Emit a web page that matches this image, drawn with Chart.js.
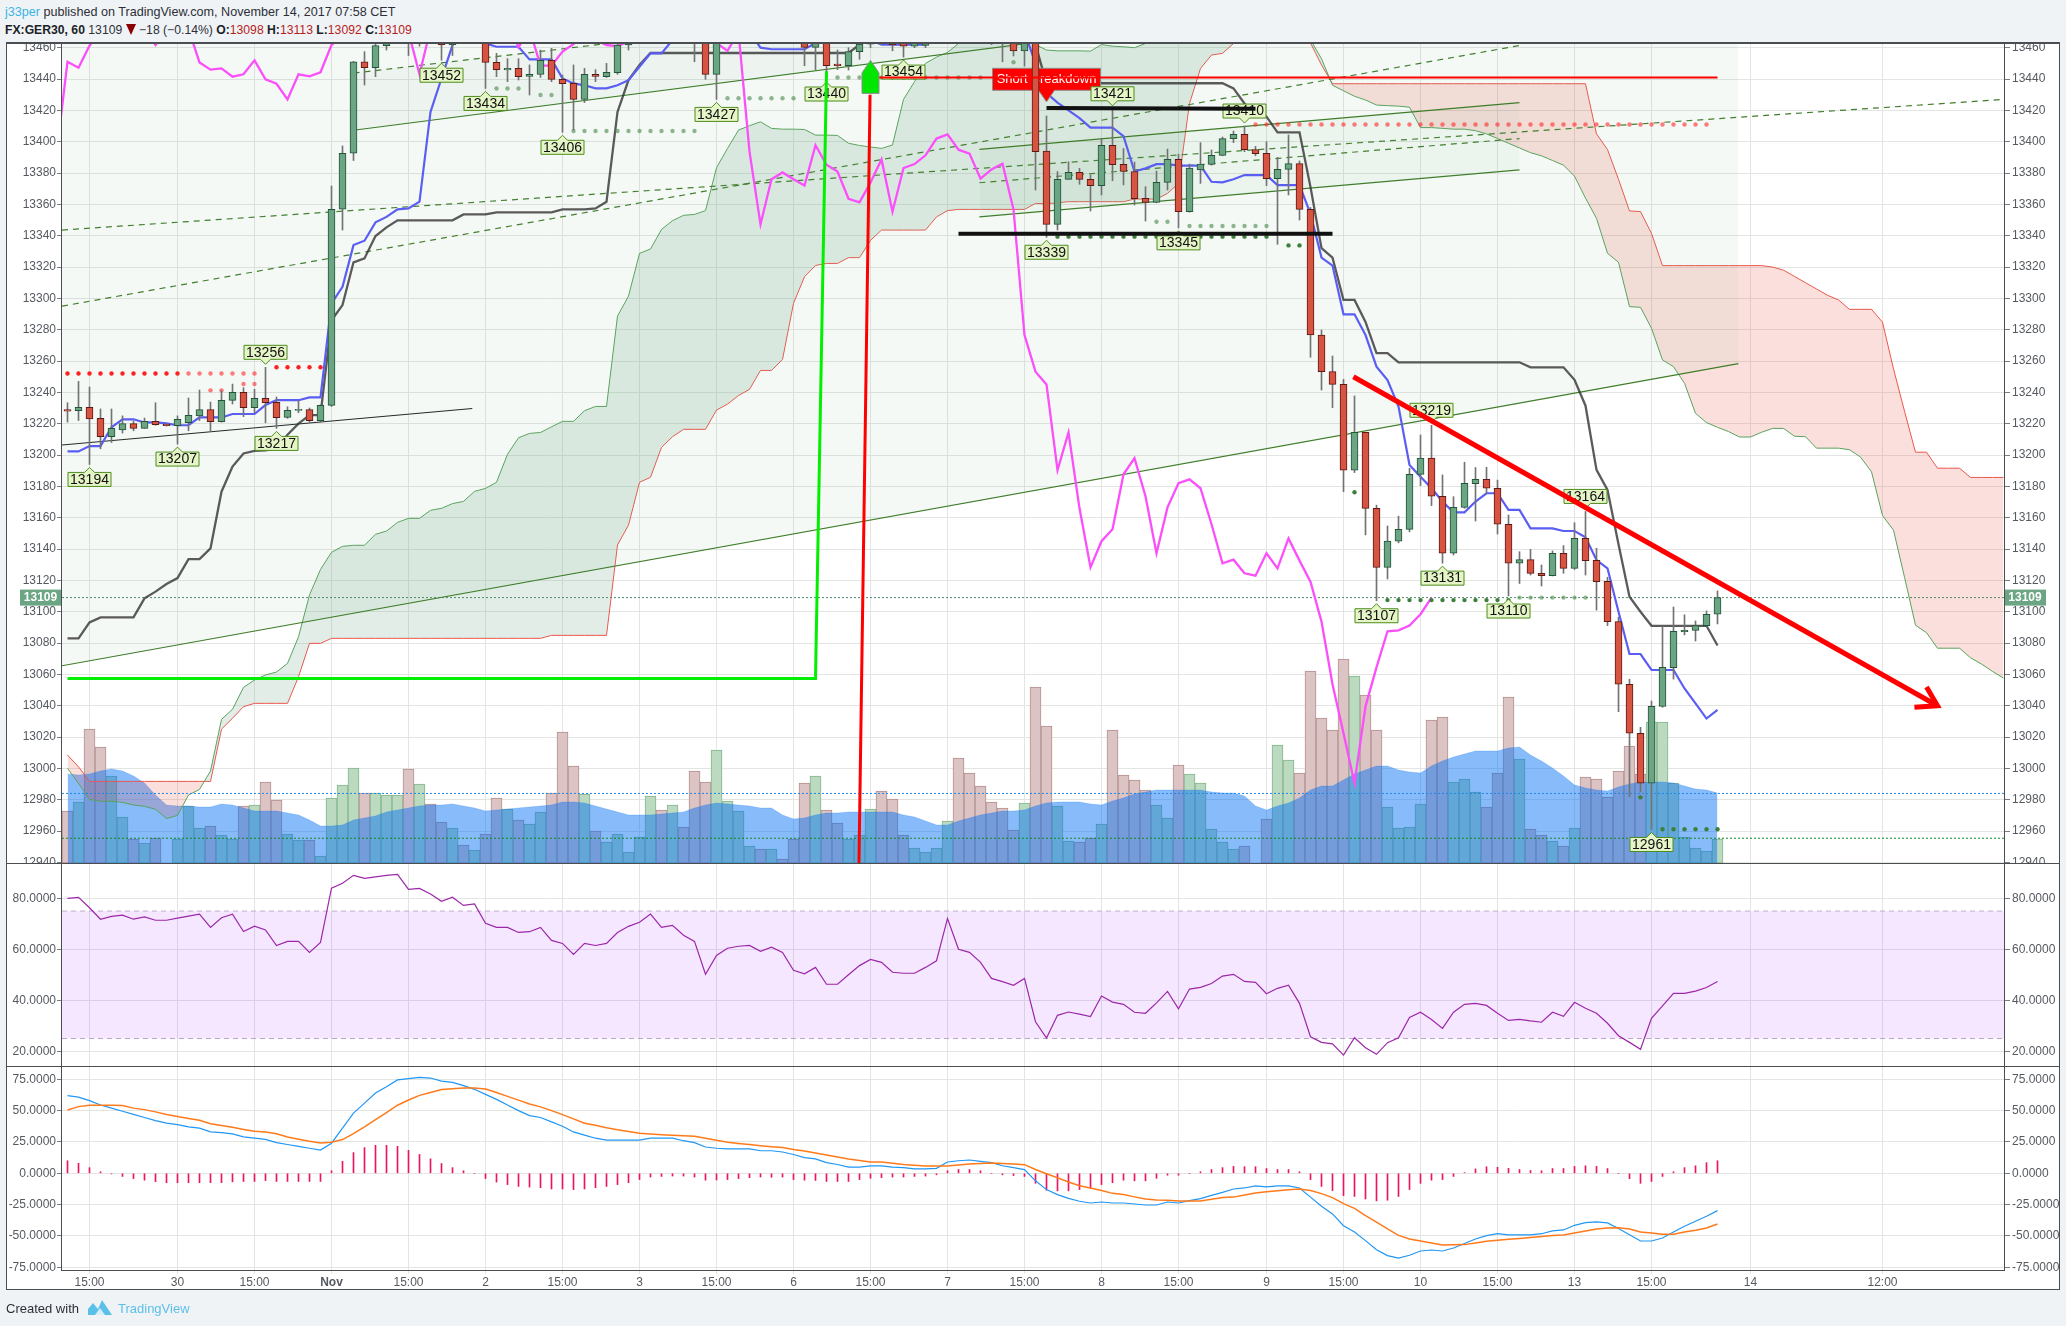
<!DOCTYPE html>
<html>
<head>
<meta charset="utf-8">
<title>FX:GER30, 60</title>
<script src="https://cdn.jsdelivr.net/npm/chart.js@4/dist/chart.umd.js"></script>
<style>
    html, body { margin: 0; padding: 0; background: #f0f3f6; }
    body { width: 2066px; height: 1326px; position: relative; overflow: hidden; font-family: "Liberation Sans", Arial, sans-serif; }
    .abs { position: absolute; }
    .pane { position: absolute; left: 7px; width: 2052px; background: #fff; }
    .rule { position: absolute; background: #4a4d52; }
    .head { position: absolute; left: 5px; white-space: nowrap; font-size: 12.6px; color: #2c2f36; }
    .head b { color: #1c1f26; }
    .red { color: #b71c1c; }
    .drop { display: inline-block; width: 0; height: 0; border-left: 5px solid transparent; border-right: 5px solid transparent; border-top: 11px solid #8b0000; vertical-align: -1px; }
</style>
</head>
<body>
<div class="head" style="top:5px"><span style="color:#3bb3e4">j33per</span> published on TradingView.com, November 14, 2017 07:58 CET</div>
<div class="head" style="top:23px;font-size:12.2px"><b>FX:GER30, 60</b> 13109 <span class="drop"></span> &minus;18 (&minus;0.14%) <b>O:</b><span class="red">13098</span> <b>H:</b><span class="red">13113</span> <b>L:</b><span class="red">13092</span> <b>C:</b><span class="red">13109</span></div>

<div class="pane" style="top:44px;height:819px"><canvas id="priceChart" width="2052" height="819"></canvas></div>
<div class="pane" style="top:864px;height:202px"><canvas id="rsiChart" width="2052" height="202"></canvas></div>
<div class="pane" style="top:1067px;height:222px"><canvas id="macdChart" width="2052" height="222"></canvas></div>

<div class="abs" style="left:7px;top:1271px;width:54px;height:18px;background:#fff"></div>
<div class="abs" style="left:2005px;top:1271px;width:54px;height:18px;background:#fff"></div>

<div class="rule" style="left:6px;top:42px;width:2054px;height:2px"></div>
<div class="rule" style="left:6px;top:863px;width:2054px;height:1px"></div>
<div class="rule" style="left:6px;top:1066px;width:2054px;height:1px"></div>
<div class="rule" style="left:61px;top:1270px;width:1944px;height:1px"></div>
<div class="rule" style="left:6px;top:1289px;width:2054px;height:1px"></div>
<div class="rule" style="left:6px;top:42px;width:1px;height:1248px"></div>
<div class="rule" style="left:2059px;top:42px;width:1px;height:1248px"></div>
<div class="rule" style="left:61px;top:44px;width:1px;height:1226px"></div>
<div class="rule" style="left:2004px;top:44px;width:1px;height:1226px"></div>

<div class="head" style="left:6px;top:1301px;font-size:13px">Created with</div>
<svg class="abs" style="left:88px;top:1300px" width="24" height="15" viewBox="0 0 24 15">
    <path d="M0 15 L0 9 L5 3 L10 9 L14 0 L24 15 Z" fill="#5bc0e8"/>
    <path d="M7 15 L12 8 L17 15 Z" fill="#d6eef8"/>
</svg>
<div class="head" style="left:118px;top:1301px;font-size:13px;color:#5bc0e8">TradingView</div>

<script>
// one entry per hourly bar, bar 0 is the first one on screen
const opens = [13229,13228.3,13230.4,13223.4,13211.7,13216,13220,13217,13221.5,13219.8,13218.7,13220.7,13225,13229,13221.3,13234.9,13240,13230.2,13236.2,13233.6,13224,13228.4,13229,13222,13231.7,13356.9,13392.6,13451,13447.2,13461.3,13470,13482,13468,13480,13472,13461.7,13470,13466,13472,13450.6,13445.8,13446.8,13441.7,13442.9,13451.9,13439.8,13437.2,13427,13443,13441.5,13444,13461.7,13468,13474,13485,13478,13486,13480,13470,13443,13472,13478,13482,13486,13483,13487,13484,13478,13460.2,13472,13449.5,13448.5,13457.5,13462.3,13468,13465,13464,13461,13461.5,13466,13470,13476,13470,13468,13466,13464,13464,13458,13470,13394,13347.2,13376,13380.4,13376,13372,13397.7,13385.5,13381,13363.8,13361.3,13374,13388.7,13355.3,13382,13385.5,13391.3,13402,13404.7,13395,13392.6,13376.4,13382.3,13386,13356.8,13276.6,13253.2,13245.1,13190.3,13214.5,13166,13128.3,13145,13152.6,13187.7,13198,13173.7,13137.3,13166.6,13181.7,13184.5,13178.8,13155.8,13130.9,13133.2,13124.5,13123,13137.3,13127.7,13146.8,13132.8,13119.4,13093.7,13053.7,13022.4,12990.5,13039.6,13064.3,13087.3,13088.1,13091.1,13098.4];
const highs = [13233.4,13247,13243.4,13229.4,13229.4,13225,13221.7,13223.6,13233.4,13220,13225,13236.4,13241.5,13233.8,13241,13245.3,13243,13242,13256,13237,13230.8,13234.7,13230,13232,13371.7,13397.3,13451.3,13457.5,13466,13478,13485,13490,13488,13484,13480,13476,13476,13478,13480,13456.4,13453,13453,13449,13458.5,13459.6,13442.5,13449,13446.8,13446,13450,13466,13474,13480,13490,13490,13490,13494,13490,13478,13480,13486,13490,13494,13492,13494,13494,13490,13486,13478,13478,13458.5,13460,13466,13472,13472,13470,13466,13468,13470,13474,13480,13482,13476,13474,13472,13470,13468,13474,13478,13416.4,13380.9,13387.2,13383,13378.7,13402,13421,13395.7,13387,13371.3,13381.3,13395.3,13392,13385.7,13399.4,13394.7,13403,13406.8,13410,13397,13400,13390,13404.3,13387.7,13358,13279.8,13263.2,13248.3,13237.7,13214.5,13168,13154.7,13161,13191.5,13212.8,13219,13187.3,13173.4,13195.4,13192,13192.2,13184,13161.7,13138.3,13139.8,13129.8,13138.8,13142.2,13156.8,13164,13140.5,13122,13096.5,13056.9,13026.2,13043,13090.5,13103,13098,13094.1,13100.5,13113.3];
const lows = [13221,13222,13194,13204,13208,13214,13215.5,13217,13219,13218.5,13207,13215.5,13222,13215,13221,13232.6,13224.5,13227,13220.6,13217,13223.4,13227,13221.3,13221,13231,13343.6,13388,13436.2,13441.5,13458.5,13465,13455,13461,13466,13452,13455,13464,13463,13434,13441.5,13438.3,13439.4,13429.8,13441,13438.3,13406,13407.5,13425,13438.3,13441,13443,13458.5,13464,13470,13474,13474,13476,13451,13439.8,13427,13466,13474,13478,13480,13480,13480,13474,13448.5,13446,13440,13446,13445.7,13452.6,13460,13462,13458,13454,13460,13460,13464,13468,13466,13466,13464,13462,13451,13454.7,13448.3,13369.2,13339,13343.6,13376,13372.8,13355.8,13366,13375.1,13372.4,13359.6,13349.4,13361,13369.2,13345,13355,13373.4,13385,13391,13399.4,13393.6,13391,13372,13334.5,13366,13350,13262.4,13241.5,13230.2,13176.6,13188.8,13149,13107,13120.9,13144,13151,13180.5,13167.7,13131,13136.2,13166,13157.9,13175.6,13149.6,13110,13118,13123.4,13116.4,13122.8,13124.5,13127,13123.4,13101,13091.1,13036.2,12982,12985,12961,13039,13057,13085.2,13081.3,13091,13092.2];
const closes = [13228,13230.4,13223,13211.7,13217,13220,13217,13221.5,13219.4,13218.7,13222.8,13225.3,13229,13221.3,13234.9,13240,13230.2,13236.2,13233.4,13223.8,13228.5,13229.2,13222,13231.7,13356.9,13392.6,13451,13447.2,13461.3,13470,13478,13468,13480,13472,13461.7,13470,13466,13472,13450.6,13446,13446.8,13441.5,13443,13451.9,13439.8,13437,13427,13443,13441.7,13444.3,13461.7,13468,13474,13485,13478,13486,13480,13470,13443,13472,13478,13482,13486,13483,13487,13484,13478,13460.2,13472,13448.5,13448.5,13457.5,13462.3,13468,13465,13461.7,13461,13464,13466,13470,13476,13470,13468,13466,13464,13463,13458,13470,13393.6,13347.2,13376,13380.4,13376,13372,13397.7,13385.3,13381,13363.6,13361.3,13374,13388.7,13355.3,13383.2,13385.7,13391.3,13402,13404.7,13394.9,13392.4,13376.4,13382.3,13386,13356.8,13276.6,13253.2,13245.1,13190.3,13214.5,13166,13128.3,13145,13152.6,13187.7,13198,13173.7,13137.3,13166.6,13182,13184.5,13178.8,13155.8,13130.9,13133.2,13124.5,13123,13137.3,13127.7,13146.8,13132.6,13119.2,13093.7,13053.7,13022.4,12990.5,13039.6,13064.5,13087.5,13088.1,13091.1,13098.4,13109];

const volumes = [52,61,134,116,87,46,24,20,25,0,24,57,35,37,28,24,57,58,81,63,29,23,23,7,65,78,95,70,70,68,68,94,79,59,41,35,18,13,29,65,54,43,39,51,70,131,97,69,32,21,29,11,26,67,53,58,36,92,81,113,62,52,17,14,14,4,24,80,87,53,40,24,28,54,72,64,28,15,11,15,42,105,90,77,61,55,33,60,176,137,57,22,21,25,39,133,88,83,73,58,45,98,89,80,34,21,14,17,0,44,118,103,90,192,145,133,204,187,168,133,56,35,36,59,143,146,81,84,71,56,90,166,104,34,28,22,17,35,86,84,66,92,117,89,141,141,80,26,15,12,24];
const volumeAverage = [89,88,89,92,94,92,87,80,68,58,57,57,56,56,59,58,55,52,52,52,50,48,43,37,37,38,43,45,47,51,53,55,57,58,58,59,57,55,52,53,54,55,56,57,58,61,61,60,57,54,51,48,48,48,49,50,51,55,58,60,59,58,57,55,55,48,44,45,48,50,50,51,51,51,51,51,48,46,42,38,38,42,45,48,50,52,52,53,57,60,61,61,61,59,58,62,65,69,71,73,73,73,73,73,71,70,70,67,57,53,57,60,65,73,77,77,83,89,93,97,97,93,91,90,97,102,106,109,112,112,112,115,116,108,102,95,87,78,75,73,72,76,79,81,81,81,80,77,74,73,70];

const tenkan = [13202.3,13202.3,13205.7,13205.7,13217.7,13222.8,13222.8,13220.8,13220.8,13220.2,13219,13219,13224,13224,13224,13226.2,13226.2,13226.2,13231.9,13235,13235,13235,13236.8,13236.8,13296.8,13307.4,13334,13336.8,13348.5,13352,13356.8,13357.4,13361.7,13419,13440.4,13461.7,13470,13468,13462.7,13460.6,13460.6,13460.6,13452.5,13452.5,13452.5,13440.4,13437.2,13436,13434,13434,13436,13439.3,13447.8,13456.4,13456.4,13464.9,13470,13470,13470,13470,13470,13470,13470,13460,13459,13459,13459,13459,13463,13465,13465,13465,13465,13465,13462,13462,13462,13462,13462,13470,13470,13470,13470,13470,13470,13470,13470,13470,13450,13431,13425,13420,13415,13409,13409,13409,13403.6,13381,13383,13385.7,13385.7,13384.7,13384.7,13384.7,13374.4,13374,13376,13378.7,13378.7,13378.7,13372.3,13372.3,13372.3,13354,13326,13320.9,13289.8,13289.8,13276.6,13256.4,13247.9,13230.9,13193.7,13186.2,13178.8,13170.3,13163.4,13163.4,13170.3,13175.6,13175.6,13165,13165,13153.2,13153.2,13153.2,13151.5,13151.5,13147.5,13133,13127.7,13100,13073,13073,13062.8,13062.8,13062.8,13051,13041.5,13031.8,13037.3];
const kijun = [13083,13083,13093.2,13096.4,13096.4,13096.4,13096.4,13108.5,13112.8,13117.7,13121.5,13133.6,13133.6,13140.4,13176.6,13192.6,13201,13202.6,13203,13204,13213,13220,13225.5,13225.5,13286,13295.7,13323,13325.5,13339.8,13345.3,13349.8,13349.8,13349.8,13349.8,13349.8,13349.8,13353.6,13353.6,13353.6,13354.9,13354.9,13354.9,13354.9,13354.9,13354.9,13356.8,13356.8,13356.8,13357.4,13361.7,13419,13439.3,13448.9,13456.6,13456.6,13456.6,13456.6,13456.6,13456.6,13456.6,13456.6,13456.6,13456.6,13456.6,13456.6,13456.6,13456.6,13456.6,13456.6,13456.6,13456.6,13456.6,13462,13470,13470,13470,13470,13470,13470,13470,13470,13470,13470,13470,13470,13470,13470,13470,13462,13437.3,13437.3,13437.3,13437.3,13437.3,13437.3,13437.3,13437.3,13437.3,13437.3,13437.3,13437.3,13437.3,13437.3,13437.3,13437.3,13437.3,13434,13424.4,13416,13416,13406,13406,13406,13371,13332,13326,13299,13299,13285,13265,13265,13259.2,13259.2,13259.2,13259.2,13259.2,13259.2,13259.2,13259.2,13259.2,13259.2,13259.2,13259.2,13256,13256,13256,13256,13248,13231.5,13190.5,13177.7,13143,13109.6,13100,13091,13091,13091,13091,13091,13091,13078.4];
const spanA = [13000,12990.5,12980.2,12979,12979,12978.3,12976.6,12975.8,12973.9,12968,12970,12983,12986.6,12998.3,13031.3,13037.7,13051.7,13056.4,13059.6,13061.5,13067,13084,13110.7,13127,13137.9,13141.7,13142.4,13142.4,13149.4,13151.5,13157,13159.6,13159.6,13164.7,13166,13169,13170.4,13176.8,13178.7,13182.6,13200.5,13211,13213.8,13214.4,13218,13221.5,13221.5,13228.3,13231,13231,13288.7,13301.5,13328.7,13331.5,13344,13349.6,13353,13353.6,13356,13383.4,13395.7,13407.4,13410.2,13412.7,13408.5,13408,13408,13407.8,13404.2,13404.2,13404,13399,13397.6,13396.6,13395.7,13397.9,13427,13438.3,13450,13454,13457,13462.7,13468,13470,13472,13472,13470,13466,13462,13458.5,13458,13458,13458,13457.8,13462,13461,13460.6,13460,13462.7,13470,13480,13490,13500,13505,13505,13505,13505,13505,13505,13505,13500,13490,13478,13465,13453,13436,13432.5,13429,13426.6,13423.4,13423,13422.7,13422,13409,13409,13408.5,13408,13408,13407,13405,13402,13399,13396,13393,13391,13388,13385,13378,13364,13351,13328.8,13323,13294.7,13294.3,13280.9,13260.7,13256.4,13245.8,13226.6,13220.7,13217.7,13215,13211.5,13211.5,13214.5,13217,13217,13212,13211.7,13204.4,13204.4,13204.4,13203.4,13198.7,13189.3,13161.4,13152,13122,13091.4,13086.6,13076.7,13076.7,13076.7,13070.6,13066.6,13061.9,13057.6];
const spanB = [13008.5,13001,
    12991.7,12991.7,12991.7,12991.7,12991.7,12991.7,12991.7,12991.7,12991.7,12991.7,12991.7,12991.7,
    13025,13032,13039.4,13041.5,13041.5,13041.5,13041.5,13058.5,13079.8,13079.8,
    13083,13083,13083,13083,13083,13083,13083,13083,13083,13083,13083,13083,13083,13083,13083,13083,13083,13083,13083,13083,
    13084.9,13084.9,13084.9,13084.9,13084.9,13084.9,
    13142.6,13155.3,13182.6,13185.8,13204.9,13211.7,13216.4,13216.4,13216.4,13228.7,13232.5,13238,13241.9,13254,13254,13261,13296.8,13313.8,13321,13322.3,13322.3,13326,13326,13337,
    13343.6,13343.6,13343.6,13343.6,13343.6,13352,13356,
    13356.8,13356.8,13356.8,13356.8,13356.8,13356.8,13356.8,
    13360.6,13360.4,13361,
    13361.7,13361.7,13361.7,13361.7,13361.7,13361.7,
    13363.4,13363.4,13363.4,13367,13373.4,13424.4,13446.8,13455.3,13456.4,13462.7,13480,13490,13495,13495,13490,13478,13463,13449,
    13437,13437,13437,13437,13437,13437,13437,13437,13437,13437,13437,13437,
    13437,13437,13437,13437,13437,13437,13437,13437,13437,13437,13437,13437,
    13405,13395,13376,13355.8,13355.4,13341.5,
    13320.9,13320.9,13320.9,13320.9,13320.9,13320.9,13320.9,13320.9,13320.9,13320.9,
    13320,13318,13314,13310,13306,13302,13299,13293,13293,13293,13284.8,13255,13228,13201.8,13201.8,13191.6,13191.6,13191.6,13185.7,13185.7,13185.7,13185.7];

const rsiValues = [80,80.4,76.3,71.8,72.9,73.4,71.8,72.7,71.4,71.4,72.2,73,73.8,68.6,72.4,73.8,67,69.1,67.6,61.5,63.1,63.1,58.8,62.7,84,85.9,89,87.8,88.4,89,89.4,83.5,83.9,81.7,78.8,80.4,77.2,77.8,70.2,68.6,68.6,66.6,66.9,68.6,63.5,62.3,58,62.3,61.5,62.3,66.6,69,70.6,73.8,68.6,69.4,65.5,63.1,50.2,57.6,60.4,61.2,61.5,59.2,60.8,58.8,51.8,50.4,52.9,46.3,46.3,50,53.6,56,54.9,51,50.6,50.6,52.9,55.5,72.1,60,58.8,54.9,48.6,47.3,45.9,48.6,31.6,25.2,34.1,35.4,34.6,33.6,41.7,39.3,38.4,35.3,34.9,39,43.5,36.7,44.4,45.1,46.6,49.5,50.2,47.4,47,42.6,44.7,45.9,38.8,25.7,23.5,22.9,18.5,25.3,21.4,18.8,23.4,25.3,33.3,35.3,32.5,29,35.3,38.4,38.8,38,34.9,32.1,32.5,31.9,31.4,35.3,33.7,39.2,36.9,34.9,31,26.1,23.5,20.8,32.9,37.8,42.7,42.7,43.6,45,47.4];
const macdValues = [62,60.8,58,54.5,52,49.5,47,44.5,42,40,38.8,37,36,33,32.5,31.5,29,28,27,24.5,23,21.5,20,18.5,24,36,48,56,64,69,74.5,75.5,76.5,76,73.5,72.5,70,67,63,59,54.5,50,46,44.5,41,37.5,33,30.5,28,26.5,26.5,26.5,26.5,28,28,28,26,24.5,21,20,19.5,19.5,19.5,18,18,17,15,12.5,11.5,8.5,7,5,5,6,6,5,4.5,3.5,3.5,4,9,10,10.6,9.5,8.5,6,4.5,3,-6,-13,-17,-20,-22.3,-23.7,-22.9,-23.7,-23.7,-24.5,-25.3,-25.3,-22.9,-23.7,-21.8,-20.2,-17.6,-15.2,-12.5,-11.7,-10,-10.9,-10,-10,-11.7,-19,-26.3,-32.4,-41.8,-46.8,-53.7,-61,-65.7,-67.6,-65.4,-62,-61.2,-62,-59.6,-56,-52.4,-49.7,-48.2,-49.2,-49.2,-49.2,-48.2,-46,-45.2,-41.5,-39.4,-38.8,-39.6,-44,-49,-54,-54,-51.6,-46.8,-42.3,-38.3,-34.3,-29.8];
const signalValues = [50.5,53.2,54.3,54.3,54.2,54,52,50.8,49,47,45.4,43.8,42.3,39.6,38.2,36.7,35,33.5,33,31.6,29,27.2,25.5,24.2,24.7,26.9,31.6,37,42.8,48.5,54.3,58.5,62.2,64.5,66.8,67.5,68,68,67.3,64.5,61.4,58.4,55.3,53,50,46.8,43.4,40,38.3,36.4,34.8,33.4,32,31.4,30.8,30.3,29.9,29.5,28,26.4,24.7,23.8,22.9,22,21.2,20.5,18.9,17.8,16.2,14.6,13,11.4,10.2,9,9,8,7,6.4,5.9,5.9,5.9,6.6,7.4,7.8,8.2,7.8,7.4,6.9,3,-0.3,-3.6,-7,-10,-11.7,-13.8,-16,-17,-18.8,-20.5,-21.3,-21.6,-22,-22,-22,-20.7,-19.4,-19,-17.4,-15.7,-14.8,-14,-13.2,-12.5,-13.8,-16.2,-19.4,-24.2,-28,-33.8,-39,-44.4,-49.5,-52.4,-54,-55.6,-57.2,-57,-56.9,-55.6,-54.3,-53.5,-52.7,-52,-51.2,-50.5,-49.7,-49.2,-47.6,-46,-44.4,-43.6,-43.4,-44.4,-46.8,-47.6,-48.7,-48.7,-46.8,-45.4,-43.6,-40.4];
const histValues = [10,8,4.5,1.2,-0.5,-2.5,-4.2,-5.5,-6.7,-7.5,-7.5,-7.5,-7.5,-7.5,-7.5,-6.8,-6.5,-6.5,-5.8,-6.5,-6.5,-6.5,-6.5,-6.5,2,9.5,16.5,20.5,22.3,22.3,21.5,18.3,15,11.5,7.8,4.5,2,0,-4.2,-7,-9,-10.5,-11,-11.5,-12.5,-12.5,-13,-12.5,-11.5,-10.5,-9,-7.5,-5,-3,-2.5,-2.2,-2.2,-3,-5.5,-5.3,-5,-4.2,-3.5,-3,-3.2,-3,-5,-5.5,-5.7,-6.5,-6.5,-6.5,-5,-4,-3.5,-3,-3,-2.5,-2.2,-1.2,2,3,3,2,0,-1.2,-1.8,-2.5,-8,-13.5,-14,-14,-13,-12,-9,-7.5,-5.5,-6,-6,-4,-1.5,-1.5,0,1.2,3,4.5,5.5,5.3,5.3,3.8,3,3,1.2,-5,-10.5,-13.8,-17.8,-18.5,-20.5,-22,-21.5,-18.5,-13,-8,-5.5,-5,-2.5,0.5,3.5,5.2,4.8,4,3,2.2,2,3.8,3.8,5.5,6,5.5,3.8,0,-4.3,-8,-6.5,-2.5,1.2,4.5,6,8.5,10];

// tick bars and their captions on the time axis
const timeTickBars = [2,10,17,24,31,38,45,52,59,66,73,80,87,94,101,109,116,123,130,137,144,153,165];
const timeTickLabels = ['15:00','30','15:00','Nov','15:00','2','15:00','3','15:00','6','15:00','7','15:00','8','15:00','9','15:00','10','15:00','13','15:00','14','12:00'];

// pivot markers: bar index, price, true when the marker sits above the bar
const pivotBars = [2,10,19,18,34,38,45,59,69,76,95,89,101,107,124,125,119,131,138,144];
const pivotPrices = [13194,13207,13217,13256,13452,13434,13406,13427,13440,13454,13421,13339,13345,13410,13219,13131,13107,13110,13164,12961];
const pivotAbove = [false,false,false,true,false,false,false,false,false,false,true,false,false,true,true,false,false,false,true,false];

// dotted levels: price, first bar, last bar
const redDotRows = [[13252,0,10],[13256,19,23]];
const fadedRedDotRows = [[13252,11,17],[13241.3,13,14],[13245.3,16,17],[13411,108,149]];
const lightGreenDotRows = [[13434,39,41],[13429.8,43,44],[13406.8,46,57],[13427.7,60,66],[13441,70,83],[13450.7,86,86],[13348.9,99,100],[13346.2,102,109],[13109,132,138]];
const darkGreenDotRows = [[13339.4,90,109],[13333.8,111,112],[13176.2,117,117],[13107.4,120,131],[12981.5,143,143],[12961.1,145,150]];

// drawn lines, as [bar, price] pairs. 11 px per bar, bar centres on half pixels
const xMin = -0.5;
const xMax = 176.045;
const lineBlackThin = [[xMin,13206.4],[36.8,13229.7]];
const lineLongGreen = [[xMin,13065.5],[151.9,13258.4]];
const lineDashA = [[xMin,13343.6],[xMax,13427]];
const lineDashB = [[xMin,13295],[132,13461.4]];
const lineChannelLow = [[26,13407.3],[87.6,13463]];
const lineChannelHigh = [[26,13443.8],[87.6,13494]];
const lineBoxTop = [[82.9,13395.1],[132,13425]];
const lineBoxMid = [[82.9,13373.8],[132,13402]];
const lineBoxLow = [[82.9,13352],[132,13382]];
const lineBrightGreen = [[0,13057.3],[68,13057.3],[69,13445]];
const lineRedRise = [[71.95,12939.6],[72.96,13430]];
const lineRedFlat = [[73.8,13441],[150,13441]];
const lineBlackTop = [[89,13421.5],[108,13421]];
const lineBlackBottom = [[81,13341.3],[115,13341.3]];
const lineArrowShaft = [[116.9,13250],[170,13040]];
const lineArrowHead = [[169,13052],[170,13040],[167.9,13039]];

const lastPrice = 13109;
const blueLevel = 12984;
const greenLevel = 12955.4;

const fontFamily = '"Liberation Sans", Arial, sans-serif';
const gridColor = '#e3e5e3';
const tickColor = '#555a60';
const trendColor = '#3f7d2a';
const upColor = '#6ba583';
const downColor = '#d75442';
const upEdge = '#225437';
const downEdge = '#5b1a13';

function seriesPoints(values, start) {
    return values.map(function (value, i) { return {x: i + (start || 0), y: value}; });
}

function pairPoints(pairs) {
    return pairs.map(function (pair) { return {x: pair[0], y: pair[1]}; });
}

function rowPoints(rows) {
    let points = [];
    rows.forEach(function (row) {
        for (let bar = row[1]; bar <= row[2]; bar++) {
            points.push({x: bar, y: row[0]});
        }
    });
    return points;
}

function lineSet(data, color, width, order, extra) {
    return Object.assign({
        type: 'line', data: data, borderColor: color, borderWidth: width, order: order,
        pointRadius: 0, tension: 0, fill: false
    }, extra || {});
}

function dotSet(rows, color, order) {
    return {
        type: 'line', data: rowPoints(rows), showLine: false, order: order,
        pointRadius: 2.2, pointBorderWidth: 0, pointBackgroundColor: color
    };
}

function timeScale(showLabels) {
    return {
        type: 'linear', min: xMin, max: xMax, offset: false,
        afterBuildTicks: function (scale) {
            scale.ticks = timeTickBars.map(function (bar) { return {value: bar}; });
        },
        afterFit: function (scale) {
            scale.paddingLeft = 0;
            scale.paddingRight = 0;
            scale.height = showLabels ? 19 : 0;
        },
        border: {display: false},
        grid: {color: gridColor, offset: false, drawTicks: showLabels, tickLength: 4},
        ticks: {
            display: showLabels, autoSkip: false, maxRotation: 0, padding: 1, color: tickColor,
            font: function (ctx) {
                let bold = ctx.tick && ctx.tick.value === 24;
                return {family: fontFamily, size: 12, weight: bold ? 'bold' : 'normal'};
            },
            callback: function (value) {
                return timeTickLabels[timeTickBars.indexOf(value)];
            }
        }
    };
}

function valueScale(position, min, max, step, format) {
    let left = position === 'left';
    return {
        type: 'linear', position: position, min: min, max: max,
        afterFit: function (scale) {
            scale.width = 55;
            scale.paddingTop = 0;
            scale.paddingBottom = 0;
        },
        border: {display: false},
        grid: {color: gridColor, drawOnChartArea: left, tickLength: left ? 5 : 6, tickColor: '#7a7d82'},
        ticks: {
            stepSize: step, includeBounds: false, padding: left ? 1 : 2, color: tickColor,
            font: {family: fontFamily, size: 12},
            callback: format
        }
    };
}

function baseOptions(scales) {
    return {
        responsive: false,
        animation: false,
        events: [],
        layout: {padding: 0, autoPadding: false},
        plugins: {legend: {display: false}, tooltip: {enabled: false}},
        scales: scales
    };
}

function drawPivots(chart) {
    let ctx = chart.ctx;
    let xScale = chart.scales.x;
    let yScale = chart.scales.y;
    ctx.save();
    ctx.font = '14px ' + fontFamily;
    ctx.textAlign = 'center';
    ctx.textBaseline = 'middle';
    pivotBars.forEach(function (bar, i) {
        let px = xScale.getPixelForValue(bar);
        let py = yScale.getPixelForValue(pivotPrices[i]);
        let dir = pivotAbove[i] ? -1 : 1;
        let tip = py + dir * 3;
        let near = tip + dir * 5;
        let far = near + dir * 14;
        ctx.beginPath();
        ctx.moveTo(px - 21.5, near);
        ctx.lineTo(px - 5, near);
        ctx.lineTo(px, tip);
        ctx.lineTo(px + 5, near);
        ctx.lineTo(px + 21.5, near);
        ctx.lineTo(px + 21.5, far);
        ctx.lineTo(px - 21.5, far);
        ctx.closePath();
        ctx.fillStyle = '#e6f5c8';
        ctx.fill();
        ctx.strokeStyle = '#4c8c1a';
        ctx.lineWidth = 1;
        ctx.stroke();
        ctx.fillStyle = '#111';
        ctx.fillText(String(pivotPrices[i]), px, (near + far) / 2 + 0.5);
    });
    ctx.restore();
}

function drawShortFlag(chart) {
    let ctx = chart.ctx;
    let px = chart.scales.x.getPixelForValue(89);
    let tip = chart.scales.y.getPixelForValue(13421) - 7;
    ctx.save();
    ctx.beginPath();
    ctx.moveTo(px - 54, tip - 33.5);
    ctx.lineTo(px + 54, tip - 33.5);
    ctx.lineTo(px + 54, tip - 11.5);
    ctx.lineTo(px + 8, tip - 11.5);
    ctx.lineTo(px, tip);
    ctx.lineTo(px - 8, tip - 11.5);
    ctx.lineTo(px - 54, tip - 11.5);
    ctx.closePath();
    ctx.fillStyle = '#ff0000';
    ctx.fill();
    ctx.strokeStyle = '#8c8c8c';
    ctx.lineWidth = 1;
    ctx.stroke();
    ctx.fillStyle = '#fff';
    ctx.font = '13px ' + fontFamily;
    ctx.textAlign = 'center';
    ctx.textBaseline = 'middle';
    ctx.fillText('Short Breakdown', px, tip - 22);
    ctx.restore();
}

function drawUpArrow(chart) {
    let ctx = chart.ctx;
    let px = chart.scales.x.getPixelForValue(73);
    let top = chart.scales.y.getPixelForValue(13451.9);
    ctx.save();
    ctx.beginPath();
    ctx.moveTo(px, top);
    ctx.lineTo(px + 8.5, top + 12.5);
    ctx.lineTo(px + 8.5, top + 33);
    ctx.lineTo(px - 8.5, top + 33);
    ctx.lineTo(px - 8.5, top + 12.5);
    ctx.closePath();
    ctx.fillStyle = '#00e600';
    ctx.fill();
    ctx.strokeStyle = '#8c8c8c';
    ctx.lineWidth = 1;
    ctx.stroke();
    ctx.restore();
}

function drawPriceTag(chart, left, right) {
    let ctx = chart.ctx;
    let py = chart.scales.y.getPixelForValue(lastPrice);
    ctx.save();
    ctx.fillStyle = upColor;
    ctx.fillRect(left, py - 8, right - left, 16);
    ctx.fillStyle = '#fff';
    ctx.font = 'bold 12px ' + fontFamily;
    ctx.textAlign = 'center';
    ctx.textBaseline = 'middle';
    ctx.fillText(String(lastPrice), (left + right) / 2, py + 0.5);
    ctx.restore();
}

const pricePlugin = {
    id: 'priceMarks',
    beforeDatasetDraw: function (chart, args) {
        if (chart.data.datasets[args.index].id === 'wicks') {
            drawShortFlag(chart);
        }
    },
    afterDatasetDraw: function (chart, args) {
        if (chart.data.datasets[args.index].id === 'bodies') {
            drawPivots(chart);
            drawUpArrow(chart);
        }
    },
    afterDraw: function (chart) {
        drawPriceTag(chart, 13, 54);
        drawPriceTag(chart, 1997, 2039);
    }
};

function priceDatasets() {
    let isUp = closes.map(function (c, i) { return c >= opens[i]; });
    return [
        // index 0, 1: cloud edges, the fill runs between them
        lineSet(seriesPoints(spanA), '#58a35c', 1, 21, {
            fill: {target: 1, above: 'rgba(107,165,131,0.2)', below: 'rgba(231,76,60,0.18)'}
        }),
        lineSet(seriesPoints(spanB), '#f0554c', 1, 22),
        // index 2, 3: shaded boxes between trend channels
        lineSet(pairPoints(lineChannelLow), trendColor, 1.2, 16, {
            fill: {target: 3, below: 'rgba(107,165,131,0.05)', above: 'rgba(107,165,131,0.05)'}
        }),
        lineSet(pairPoints(lineChannelHigh), trendColor, 1.2, 16, {borderDash: [6, 5]}),
        // index 4, 5
        lineSet(pairPoints(lineBoxTop), trendColor, 1.2, 16, {
            fill: {target: 5, above: 'rgba(107,165,131,0.07)', below: 'rgba(107,165,131,0.07)'}
        }),
        lineSet(pairPoints(lineBoxLow), trendColor, 1.2, 16),
        lineSet(pairPoints(lineBoxMid), trendColor, 1.2, 16, {borderDash: [6, 5]}),
        lineSet(pairPoints(lineLongGreen), trendColor, 1.2, 16, {
            fill: {target: 'end', above: 'rgba(107,165,131,0.07)', below: 'rgba(107,165,131,0.07)'}
        }),
        lineSet(pairPoints(lineDashA), trendColor, 1.2, 16, {borderDash: [6, 5]}),
        lineSet(pairPoints(lineDashB), trendColor, 1.2, 16, {borderDash: [6, 5]}),
        lineSet(pairPoints(lineBlackThin), '#222', 1.2, 16),
        {
            type: 'bar', yAxisID: 'yVol', order: 31, grouped: false, barThickness: 11, borderWidth: 1,
            borderSkipped: false,
            data: seriesPoints(volumes),
            backgroundColor: isUp.map(function (up) { return up ? '#bcdabf' : '#dcc4c4'; }),
            borderColor: isUp.map(function (up) { return up ? '#84b58e' : '#b58f8f'; })
        },
        lineSet(seriesPoints(volumeAverage), 'rgba(0,110,245,0.2)', 1, 30, {
            yAxisID: 'yVol', fill: {target: 'origin', above: 'rgba(0,110,245,0.47)'}
        }),
        lineSet([{x: xMin, y: lastPrice}, {x: xMax, y: lastPrice}], '#4f8a6b', 1, 14, {borderDash: [2, 2]}),
        lineSet([{x: xMin, y: blueLevel}, {x: xMax, y: blueLevel}], '#1e88e5', 1, 14, {borderDash: [2, 2]}),
        lineSet([{x: xMin, y: greenLevel}, {x: xMax, y: greenLevel}], '#0f8a1e', 1, 14, {borderDash: [2, 2]}),
        lineSet(seriesPoints(kijun), 'rgba(50,50,50,0.8)', 2.3, 12),
        lineSet(seriesPoints(tenkan), '#5a5ef2', 2.2, 11),
        // lagging span: closes moved back 26 bars
        lineSet(seriesPoints(closes, -26), '#fb4ffb', 2.3, 10),
        dotSet(redDotRows, '#ff2020', 9),
        dotSet(fadedRedDotRows, 'rgba(255,40,40,0.6)', 9),
        dotSet(lightGreenDotRows, 'rgba(85,145,85,0.65)', 9),
        dotSet(darkGreenDotRows, '#3c803c', 9),
        {
            id: 'wicks', type: 'bar', order: 6, grouped: false, barThickness: 1, borderWidth: 0,
            data: highs.map(function (h, i) { return {x: i, y: [lows[i], h]}; }),
            backgroundColor: '#737375'
        },
        {
            id: 'bodies', type: 'bar', order: 5, grouped: false, barThickness: 7, borderWidth: 1,
            borderSkipped: false,
            data: opens.map(function (o, i) { return {x: i, y: [Math.min(o, closes[i]), Math.max(o, closes[i])]}; }),
            backgroundColor: isUp.map(function (up) { return up ? upColor : downColor; }),
            borderColor: isUp.map(function (up) { return up ? upEdge : downEdge; })
        },
        lineSet(pairPoints(lineBrightGreen), '#00f000', 3, 3),
        lineSet(pairPoints(lineRedFlat), '#ff0000', 2, 3),
        lineSet(pairPoints(lineRedRise), '#ff0000', 3, 3),
        lineSet(pairPoints(lineBlackTop), '#111', 4, 2),
        lineSet(pairPoints(lineBlackBottom), '#111', 4, 2),
        lineSet(pairPoints(lineArrowShaft), '#ff0000', 5, 1),
        lineSet(pairPoints(lineArrowHead), '#ff0000', 5, 1)
    ];
}

function plainLabel(value) {
    return String(value);
}

function fixedLabel(value) {
    return Number(value).toFixed(4);
}

new Chart(document.getElementById('priceChart').getContext('2d'), {
    type: 'line',
    data: {datasets: priceDatasets()},
    options: baseOptions({
        x: timeScale(false),
        y: valueScale('left', 12939.6, 13462.36, 20, plainLabel),
        yRight: valueScale('right', 12939.6, 13462.36, 20, plainLabel),
        yVol: {type: 'linear', display: false, min: 0, max: 819}
    }),
    plugins: [pricePlugin]
});

new Chart(document.getElementById('rsiChart').getContext('2d'), {
    type: 'line',
    data: {
        datasets: [
            lineSet([{x: xMin, y: 75}, {x: xMax, y: 75}], '#c2abca', 1, 5, {
                borderDash: [5, 4],
                fill: {target: 1, above: 'rgba(153,21,255,0.1)'}
            }),
            lineSet([{x: xMin, y: 25}, {x: xMax, y: 25}], '#c2abca', 1, 5, {borderDash: [5, 4]}),
            lineSet(seriesPoints(rsiValues), '#9c27a8', 1.2, 1)
        ]
    },
    options: baseOptions({
        x: timeScale(false),
        y: valueScale('left', 14.235, 93.45, 20, fixedLabel),
        yRight: valueScale('right', 14.235, 93.45, 20, fixedLabel)
    })
});

new Chart(document.getElementById('macdChart').getContext('2d'), {
    type: 'line',
    data: {
        datasets: [
            {
                type: 'bar', order: 3, grouped: false, barThickness: 1, borderWidth: 0,
                data: seriesPoints(histValues), backgroundColor: '#ec1561'
            },
            lineSet(seriesPoints(macdValues), '#2196f3', 1.2, 2),
            lineSet(seriesPoints(signalValues), '#ff7a1a', 1.5, 1)
        ]
    },
    options: baseOptions({
        x: timeScale(true),
        y: valueScale('left', -77.15, 84.81, 25, fixedLabel),
        yRight: valueScale('right', -77.15, 84.81, 25, fixedLabel)
    })
});
</script>
</body>
</html>
